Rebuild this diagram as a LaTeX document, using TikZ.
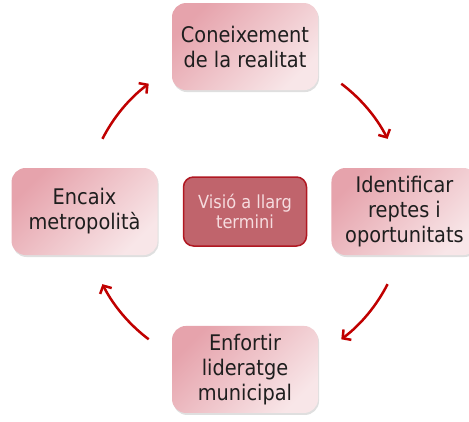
\documentclass[tikz,border=0pt]{standalone}
\usepackage{fontspec}
\setmainfont{DejaVu Sans Condensed}
\usepackage{tikz}
\usetikzlibrary{
    arrows.meta,
    positioning,
    shadows
}

\definecolor{boxdark}{HTML}{E6A3AC}
\definecolor{boxlight}{HTML}{F8E6E8}
\definecolor{visionfill}{HTML}{C0646C}
\definecolor{visionline}{HTML}{B01822}
\definecolor{visiontext}{HTML}{F6DCDF}
\definecolor{cyclered}{HTML}{C00000}
\definecolor{boxtext}{HTML}{1E1E1E}

\begin{document}
\begin{tikzpicture}[
x=1bp, y=1bp,
stagebox/.style={
rounded corners=14bp,
minimum width=146bp,
minimum height=87bp,
align=center,
top color=boxdark,
bottom color=boxlight,
shading angle=45,
drop shadow={shadow xshift=1bp, shadow yshift=-2bp, opacity=0.25},
text=boxtext,
font=\fontsize{21.5bp}{25bp}\selectfont
},
visionbox/.style={
draw=visionline,
line width=1.5bp,
fill=visionfill,
rounded corners=10bp,
minimum width=123bp,
minimum height=69bp,
align=center,
text=visiontext,
font=\fontsize{18bp}{20bp}\selectfont
},
cyclearrow/.style={
draw=cyclered,
line width=2.5bp,
-{Straight Barb[length=6bp, width=13bp]}
}
]

\clip (0,0) rectangle (469,421);

\node[visionbox] (vision) at (245,209.5)
{Visió a llarg\\termini};

\node[stagebox, above=86bp of vision] (knowledge)
{Coneixement\\de la realitat};

\node[stagebox, right=24bp of vision] (challenges)
{Identificar\\reptes i\\oportunitats};

\node[stagebox, below=79bp of vision] (leadership)
{Enfortir\\lideratge\\municipal};

\node[stagebox, left=25bp of vision] (metro)
{Encaix\\metropolità};

% cycle arrows between the stages
\foreach \a in {153,53,-27,-127}
\draw[cyclearrow]
([shift={(\a:160bp)}]vision.center)
arc[start angle=\a, delta angle=-26, radius=160bp];

\end{tikzpicture}
\end{document}
